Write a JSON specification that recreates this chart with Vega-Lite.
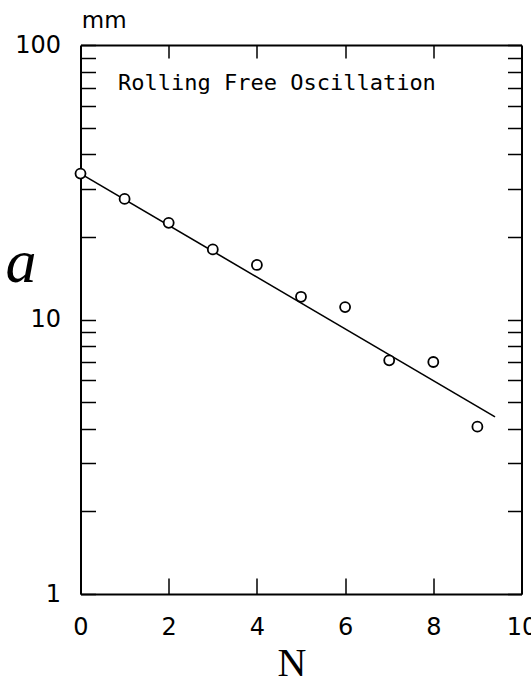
{
  "$schema": "https://vega.github.io/schema/vega-lite/v6.json",
  "width": 441,
  "height": 549,
  "autosize": {"type": "none"},
  "padding": {"left": 80.5, "top": 45, "right": 9.5, "bottom": 87},
  "background": "white",
  "config": {
    "view": {"stroke": null},
    "axis": {
      "domainColor": "black",
      "domainWidth": 2,
      "tickColor": "black",
      "tickWidth": 1.5,
      "grid": false,
      "labelFont": "DejaVu Sans",
      "labelFontSize": 24,
      "labelColor": "black"
    }
  },
  "datasets": {
    "amplitude": [
      {"N": 0, "a": 34.0},
      {"N": 1, "a": 27.5},
      {"N": 2, "a": 22.5},
      {"N": 3, "a": 18.0},
      {"N": 4, "a": 15.8},
      {"N": 5, "a": 12.1},
      {"N": 6, "a": 11.1},
      {"N": 7, "a": 7.1},
      {"N": 8, "a": 7.0},
      {"N": 9, "a": 4.07}
    ],
    "fit": [
      {"N": 0, "a": 34.0},
      {"N": 9.4, "a": 4.42}
    ],
    "caption": [
      {"N": 0.85, "a": 72.7, "label": "Rolling Free Oscillation"}
    ],
    "unit": [
      {"N": 0.03, "a": 122, "label": "mm"}
    ]
  },
  "resolve": {"axis": {"x": "independent", "y": "independent"}},
  "layer": [
    {
      "data": {"name": "fit"},
      "mark": {"type": "line", "color": "black", "strokeWidth": 1.6},
      "encoding": {
        "x": {
          "field": "N",
          "type": "quantitative",
          "scale": {"domain": [0, 10], "nice": false, "zero": false},
          "axis": {
            "orient": "bottom",
            "values": [0, 2, 4, 6, 8, 10],
            "tickSize": -16,
            "labelPadding": 37,
            "labelFlush": false,
            "labelOverlap": false,
            "title": "N",
            "titleFont": "Liberation Serif",
            "titleFontSize": 40,
            "titleFontWeight": "normal",
            "titleColor": "black",
            "titleX": 211,
            "titleY": 81,
            "titleBaseline": "alphabetic"
          }
        },
        "y": {
          "field": "a",
          "type": "quantitative",
          "scale": {"type": "log", "domain": [1, 100], "nice": false},
          "axis": {
            "orient": "left",
            "values": [1, 2, 3, 4, 5, 6, 7, 8, 9, 10, 20, 30, 40, 50, 60, 70, 80, 90, 100],
            "format": "d",
            "labelExpr": "datum.value == 1 || datum.value == 10 || datum.value == 100 ? datum.label : ''",
            "tickSize": -15,
            "labelPadding": 35,
            "labelFlush": false,
            "labelOverlap": false,
            "title": "a",
            "titleFont": "Liberation Serif",
            "titleFontStyle": "italic",
            "titleFontSize": 62,
            "titleFontWeight": "normal",
            "titleColor": "black",
            "titleAngle": 0,
            "titleAlign": "center",
            "titleBaseline": "alphabetic",
            "titleX": -60,
            "titleY": 236
          }
        }
      }
    },
    {
      "data": {"name": "amplitude"},
      "mark": {"type": "point", "shape": "circle", "filled": false, "fill": "white", "fillOpacity": 1, "stroke": "black", "strokeWidth": 1.8, "size": 100, "opacity": 1},
      "encoding": {
        "x": {
          "field": "N",
          "type": "quantitative",
          "axis": {
            "orient": "top",
            "values": [2, 4, 6, 8],
            "tickSize": -13,
            "labels": false,
            "title": null
          }
        },
        "y": {
          "field": "a",
          "type": "quantitative",
          "axis": {
            "orient": "right",
            "values": [1, 2, 3, 4, 5, 6, 7, 8, 9, 10, 20, 30, 40, 50, 60, 70, 80, 90, 100],
            "tickSize": -14,
            "labels": false,
            "title": null
          }
        }
      }
    },
    {
      "data": {"name": "caption"},
      "mark": {"type": "text", "align": "left", "baseline": "middle", "font": "DejaVu Sans Mono", "fontSize": 22, "color": "black"},
      "encoding": {
        "x": {"field": "N", "type": "quantitative", "axis": null},
        "y": {"field": "a", "type": "quantitative", "axis": null},
        "text": {"field": "label"}
      }
    },
    {
      "data": {"name": "unit"},
      "mark": {"type": "text", "align": "left", "baseline": "middle", "font": "DejaVu Sans", "fontSize": 23, "color": "black"},
      "encoding": {
        "x": {"field": "N", "type": "quantitative", "axis": null},
        "y": {"field": "a", "type": "quantitative", "axis": null},
        "text": {"field": "label"}
      }
    }
  ]
}
